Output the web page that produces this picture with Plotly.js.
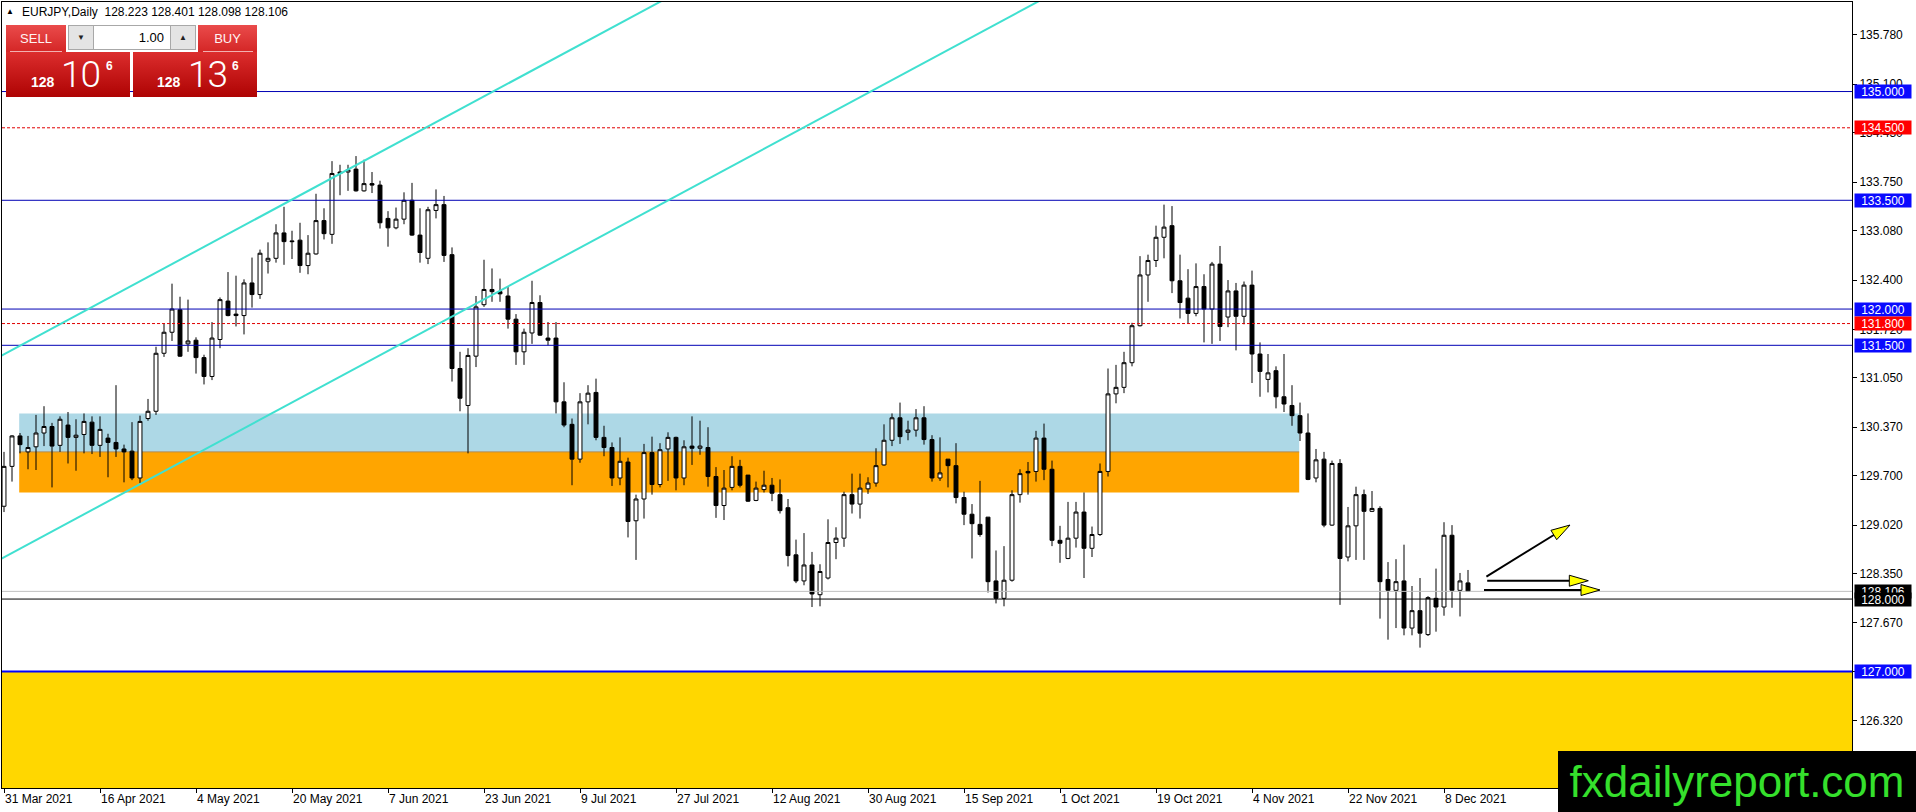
<!DOCTYPE html>
<html>
<head>
<meta charset="utf-8">
<script src="https://cdn.plot.ly/plotly-3.0.1.min.js"></script>
<style>
  html, body { margin:0; padding:0; background:#fff; overflow:hidden; }
  #chart { position:absolute; left:0; top:0; width:1916px; height:812px; }
  .ov { position:absolute; box-sizing:border-box; font-family:"Liberation Sans", Arial, sans-serif; }
  .lbl { color:#fff3f3; font-size:13px; text-align:center; line-height:27px;
         background:linear-gradient(#ea4b4b,#d42626); }
  .big { background:linear-gradient(#dc2d2d,#ae0303); color:#fff; }
  .spin { background:#e4e4e4; border:1px solid #a8a8a8; font-size:8px; text-align:center; line-height:23px; color:#222; }
</style>
</head>
<body>
<div id="chart"></div>

<!-- header -->
<div class="ov" style="left:6px;top:8px;font-size:8px;line-height:8px;color:#000;">&#9650;</div>
<div class="ov" style="left:22px;top:5px;font-size:12px;line-height:14px;color:#000;white-space:pre;">EURJPY,Daily  128.223 128.401 128.098 128.106</div>

<!-- one-click trading panel -->
<div class="ov lbl" style="left:6px;top:25px;width:60px;height:27px;">SELL</div>
<div class="ov" style="left:10px;top:51px;width:52px;height:1px;background:#f2b0b0;"></div>
<div class="ov spin" style="left:68px;top:25px;width:26px;height:25px;">&#9660;</div>
<div class="ov" style="left:93px;top:25px;width:78px;height:25px;background:#fff;border:1px solid #a8a8a8;font-size:13px;line-height:23px;text-align:right;padding-right:6px;color:#000;">1.00</div>
<div class="ov spin" style="left:170px;top:25px;width:26px;height:25px;">&#9650;</div>
<div class="ov lbl" style="left:198px;top:25px;width:59px;height:27px;">BUY</div>
<div class="ov" style="left:203px;top:51px;width:50px;height:1px;background:#f2b0b0;"></div>

<div class="ov big" style="left:6px;top:52px;width:124px;height:45px;">
  <div class="ov" style="left:25px;top:23px;font-size:14px;line-height:14px;font-weight:bold;">128</div>
  <div class="ov" style="left:55px;top:4px;font-size:37px;line-height:37px;font-family:Roboto,'Liberation Sans',sans-serif;font-weight:300;letter-spacing:-1px;">10</div>
  <div class="ov" style="left:100px;top:8px;font-size:12px;line-height:12px;font-weight:bold;">6</div>
</div>
<div class="ov big" style="left:133px;top:52px;width:124px;height:45px;">
  <div class="ov" style="left:24px;top:23px;font-size:14px;line-height:14px;font-weight:bold;">128</div>
  <div class="ov" style="left:55px;top:4px;font-size:37px;line-height:37px;font-family:Roboto,'Liberation Sans',sans-serif;font-weight:300;letter-spacing:-1px;">13</div>
  <div class="ov" style="left:99px;top:8px;font-size:12px;line-height:12px;font-weight:bold;">6</div>
</div>

<!-- watermark -->
<div class="ov" style="left:1558px;top:751px;width:358px;height:61px;background:#000;color:#35e02c;font-size:44px;line-height:61px;text-align:center;">fxdailyreport.com</div>

<script>
// ---- data (daily EURJPY bars, index 0 = 31 Mar 2021) ----
const open = [129.28,129.83,130.25,130.03,130.10,130.29,130.38,130.12,130.40,130.23,130.27,130.44,130.12,130.22,130.16,130.07,130.04,129.67,130.49,130.59,
131.39,131.68,131.99,131.52,131.57,131.33,131.07,131.58,132.11,131.93,131.91,132.36,132.20,132.66,132.70,133.05,132.94,132.95,132.60,132.76,
133.22,133.03,133.89,133.89,133.93,133.63,133.73,133.71,133.25,133.12,133.24,133.50,133.02,132.70,133.36,133.44,132.75,131.18,130.67,131.35,
132.06,132.27,132.24,132.18,131.86,131.41,131.67,132.09,131.60,131.60,130.72,130.41,129.93,130.72,130.85,130.23,130.09,129.67,129.89,129.08,
129.38,130.02,129.58,130.07,130.23,129.67,130.11,130.08,130.09,129.69,129.29,129.54,129.83,129.71,129.36,129.51,129.57,129.44,129.26,128.61,
128.25,128.47,128.06,128.29,128.78,128.84,129.44,129.31,129.52,129.60,129.85,130.19,130.50,130.30,130.33,130.50,130.20,129.67,129.93,129.84,
129.40,129.17,129.03,129.13,128.25,128.01,128.26,129.44,129.76,129.76,130.22,129.79,128.81,128.56,128.84,129.20,128.70,128.89,129.76,130.83,
130.92,131.26,131.77,132.47,132.67,132.99,133.15,132.39,132.15,131.94,132.31,132.00,132.62,131.89,132.25,131.90,132.33,131.38,131.03,131.15,
130.79,130.67,130.53,130.29,129.67,129.93,129.02,129.87,128.58,129.01,129.44,129.21,129.25,128.27,128.12,128.25,127.60,127.84,127.51,128.01,
127.89,128.88,128.12,128.223];
const high = [130.03,130.26,130.29,130.25,130.54,130.66,130.43,130.52,130.58,130.48,130.56,130.52,130.52,130.28,130.95,130.13,130.44,130.53,130.76,131.48,
131.80,132.35,132.17,132.13,131.61,131.37,131.82,132.16,132.51,132.46,132.41,132.71,132.82,132.92,133.17,133.41,133.08,133.19,133.02,133.59,
133.39,134.04,133.99,133.99,134.11,134.06,133.89,133.77,133.35,133.40,133.61,133.74,133.39,133.41,133.65,133.56,132.85,131.41,131.46,132.18,
132.68,132.56,132.42,132.31,131.93,131.73,132.39,132.19,131.82,131.82,130.99,130.49,130.84,130.95,131.04,130.39,130.16,130.23,129.95,129.44,
130.14,130.24,130.15,130.30,130.24,130.19,130.52,130.46,130.37,129.82,129.78,129.97,129.92,129.71,129.62,129.77,129.67,129.65,129.38,128.82,
128.91,128.65,128.48,129.10,128.99,129.48,129.73,129.73,129.68,130.08,130.41,130.56,130.71,130.46,130.62,130.66,130.26,130.23,129.93,130.15,
129.48,129.31,129.63,129.13,128.67,128.73,129.50,129.79,129.89,130.32,130.42,129.91,129.01,129.34,129.34,129.47,129.00,129.87,131.18,131.23,
131.41,131.81,132.73,132.75,133.15,133.44,133.42,132.75,132.55,132.63,132.48,132.65,132.87,132.40,132.36,132.38,132.53,131.54,131.38,131.21,
131.38,130.95,130.71,130.56,130.07,130.03,129.91,129.93,129.27,129.55,129.51,129.49,129.28,128.51,128.55,128.75,128.18,128.29,128.04,128.42,
129.06,129.02,128.36,128.401];
const low = [129.20,129.62,130.01,129.79,129.78,130.11,129.54,130.03,129.87,129.77,130.01,130.00,129.96,129.68,129.96,129.61,129.64,129.60,130.46,130.54,
131.34,131.56,131.34,131.41,131.11,130.96,131.02,131.46,131.90,131.76,131.65,132.02,132.14,132.49,132.64,132.61,132.69,132.50,132.48,132.75,
132.96,132.90,133.57,133.63,133.62,133.62,133.60,133.11,132.86,133.10,133.17,133.01,132.64,132.62,133.25,132.65,131.00,130.59,130.01,131.20,
132.03,132.10,132.10,131.73,131.23,131.23,131.52,131.63,131.50,130.56,130.37,129.57,129.88,130.41,130.19,129.97,129.56,129.57,128.85,128.54,
129.11,129.44,129.54,129.63,129.50,129.57,129.85,129.99,129.55,129.12,129.09,129.50,129.54,129.34,129.35,129.47,129.35,129.18,128.45,128.22,
128.19,127.89,127.90,128.27,128.55,128.72,129.18,129.11,129.45,129.55,129.84,130.11,130.14,130.19,130.24,130.13,129.62,129.63,129.54,129.32,
129.02,128.56,128.86,128.09,127.94,127.90,128.24,129.33,129.44,129.62,129.64,128.73,128.50,128.55,128.71,128.29,128.58,128.87,129.69,130.70,
130.84,131.21,131.76,132.10,132.58,132.70,132.22,131.87,131.80,131.90,131.54,131.52,131.56,131.75,131.43,131.79,130.98,130.79,130.85,130.63,
130.58,130.39,130.18,129.64,129.61,128.99,129.01,127.92,128.52,128.54,128.54,129.20,127.73,127.44,127.60,127.50,127.50,127.33,127.49,127.55,
127.77,127.88,127.76,128.098];
const close = [129.83,130.25,130.13,130.09,130.29,130.38,130.11,130.48,130.23,130.26,130.45,130.12,130.34,130.16,130.07,130.03,129.67,130.45,130.59,131.39,
131.68,132.00,131.35,131.56,131.33,131.07,131.60,132.13,131.91,131.91,132.36,132.20,132.77,132.70,133.05,132.93,132.93,132.60,132.77,133.22,
133.04,133.87,133.87,133.92,133.63,133.73,133.71,133.19,133.12,133.24,133.50,133.02,132.78,133.37,133.44,132.74,131.18,130.77,131.36,132.03,
132.27,132.24,132.21,131.86,131.41,131.68,132.09,131.64,131.57,130.72,130.40,129.93,130.72,130.84,130.23,130.09,129.67,129.90,129.07,129.38,
130.02,129.58,130.06,130.23,129.67,130.10,130.08,130.11,129.69,129.29,129.53,129.83,129.57,129.35,129.53,129.57,129.46,129.22,128.60,128.25,
128.47,128.07,128.38,128.78,128.84,129.44,129.31,129.53,129.60,129.84,130.19,130.50,130.24,130.33,130.50,130.20,129.67,129.74,129.84,129.40,
129.17,129.04,128.89,128.24,128.01,128.26,129.44,129.73,129.74,130.22,129.79,128.81,128.77,128.84,129.20,128.70,128.89,129.76,130.83,130.92,
131.26,131.77,132.47,132.67,132.99,133.13,132.39,132.09,131.94,132.31,132.00,132.62,131.76,132.25,131.90,132.33,131.38,131.14,131.12,130.79,
130.69,130.53,130.29,129.65,129.92,129.02,129.87,128.56,129.01,129.44,129.21,129.25,128.24,128.12,128.24,127.60,127.84,127.53,128.02,127.89,
128.88,128.12,128.25,128.106];

const tickBars   = [0,12,24,36,48,60,72,84,96,108,120,132,144,156,168,180];
const tickLabels = ['31 Mar 2021','16 Apr 2021','4 May 2021','20 May 2021','7 Jun 2021','23 Jun 2021','9 Jul 2021','27 Jul 2021',
                    '12 Aug 2021','30 Aug 2021','15 Sep 2021','1 Oct 2021','19 Oct 2021','4 Nov 2021','22 Nov 2021','8 Dec 2021'];
const yTicks = [135.78,135.10,134.43,133.75,133.08,132.40,131.72,131.05,130.37,129.70,129.02,128.35,127.67,127.00,126.32];

// horizontal levels
const blueLevels = [135.0,133.5,132.0,131.5];
const redLevels  = [134.5,131.8];
const bidPrice = 128.106;
const blackLevel = 128.0;
const supportLevel = 127.0;
// zones [x0 bar, x1 bar, low, high]
const blueZone   = [1.9,161.9,130.03,130.56];
const orangeZone = [1.9,161.9,129.47,130.03];
// trend channel lines [bar0, price0, bar1, price1]
const channel = [[-1,131.316,90,136.712],[-1,128.517,140,136.878]];
// forecast arrows: tail [bar, price] and tip [bar, price]
const arrowTails = [[185.3,128.31],[185.4,128.253],[185.0,128.125]];
const arrowTips  = [[195.75,129.021],[198.04,128.253],[199.5,128.125]];
// right-side price tags
const tags = [[135.0,'#0a0aff'],[134.5,'#ff0000'],[133.5,'#0a0aff'],[132.0,'#0a0aff'],[131.8,'#ff0000'],
              [131.5,'#0a0aff'],[128.106,'#000000'],[128.0,'#000000'],[127.0,'#0a0aff']];

const xRange = [-0.25,231];
const yRange = [125.394,136.235];
const plotW = 1850, plotH = 786;
const pxPerBar = plotW / (xRange[1] - xRange[0]);
const pxPerPrice = plotH / (yRange[1] - yRange[0]);
const bars = open.map((_, i) => i);
const FONT = 'Liberation Sans, Arial, sans-serif';

const candles = {
  type:'candlestick', x:bars, open:open, high:high, low:low, close:close,
  increasing:{line:{color:'#000',width:1}, fillcolor:'#ffffff'},
  decreasing:{line:{color:'#000',width:1}, fillcolor:'#000000'},
  whiskerwidth:0, hoverinfo:'skip', showlegend:false
};

const shapes = [];
shapes.push({type:'rect', xref:'paper', x0:0, x1:1, yref:'y', y0:yRange[0], y1:supportLevel, fillcolor:'#ffd700', line:{width:0}, layer:'below'});
shapes.push({type:'rect', xref:'x', x0:blueZone[0], x1:blueZone[1], yref:'y', y0:blueZone[2], y1:blueZone[3], fillcolor:'#add8e6', line:{width:0}, layer:'below'});
shapes.push({type:'rect', xref:'x', x0:orangeZone[0], x1:orangeZone[1], yref:'y', y0:orangeZone[2], y1:orangeZone[3], fillcolor:'#ffa500', line:{width:0}, layer:'below'});
shapes.push({type:'line', xref:'x', x0:orangeZone[0], x1:orangeZone[1], yref:'y', y0:orangeZone[3], y1:orangeZone[3], line:{color:'#b38a4e',width:1}, layer:'below'});
blueLevels.forEach(v => shapes.push({type:'line', xref:'paper', x0:0, x1:1, yref:'y', y0:v, y1:v, line:{color:'#0000b4',width:1}}));
redLevels.forEach(v => shapes.push({type:'line', xref:'paper', x0:0, x1:1, yref:'y', y0:v, y1:v, line:{color:'#e00000',width:1,dash:'3px,2px'}}));
shapes.push({type:'line', xref:'paper', x0:0, x1:1, yref:'y', y0:bidPrice, y1:bidPrice, line:{color:'#c0c0c0',width:1}});
shapes.push({type:'line', xref:'paper', x0:0, x1:1, yref:'y', y0:blackLevel, y1:blackLevel, line:{color:'#000',width:1}});
shapes.push({type:'line', xref:'paper', x0:0, x1:1, yref:'y', y0:supportLevel, y1:supportLevel, line:{color:'#0000ff',width:2}});
channel.forEach(c => shapes.push({type:'line', xref:'x', yref:'y', x0:c[0], y0:c[1], x1:c[2], y1:c[3], line:{color:'#40e0d0',width:2}}));

// arrows: black shaft + yellow head outlined in black (head size in pixels)
const HEAD_LEN = 19, HEAD_HALF = 5.5;
arrowTails.forEach((t, i) => {
  const tip = arrowTips[i];
  const dx = (tip[0] - t[0]) * pxPerBar, dy = (tip[1] - t[1]) * pxPerPrice;
  const len = Math.hypot(dx, dy), ux = dx / len, uy = dy / len;
  const bx = -ux * HEAD_LEN, by = -uy * HEAD_LEN;           // base centre offset (px)
  const toX = px => px / pxPerBar, toY = py => py / pxPerPrice;
  const base = [tip[0] + toX(bx), tip[1] + toY(by)];
  const l = [tip[0] + toX(bx - uy * HEAD_HALF), tip[1] + toY(by + ux * HEAD_HALF)];
  const r = [tip[0] + toX(bx + uy * HEAD_HALF), tip[1] + toY(by - ux * HEAD_HALF)];
  shapes.push({type:'line', xref:'x', yref:'y', x0:t[0], y0:t[1], x1:base[0], y1:base[1], line:{color:'#000',width:2}});
  shapes.push({type:'path', xref:'x', yref:'y',
    path:`M${tip[0]},${tip[1]} L${l[0]},${l[1]} L${r[0]},${r[1]} Z`,
    fillcolor:'#ffff00', line:{color:'#000',width:1}});
});

const annotations = tags.map(t => ({
  xref:'paper', x:1, xanchor:'left', xshift:2, yref:'y', y:t[0], yanchor:'middle',
  text:t[0].toFixed(3), showarrow:false, bgcolor:t[1], width:56, height:13, borderpad:0,
  font:{family:FONT, size:12, color:'#ffffff'}
}));

const layout = {
  width:1916, height:812,
  margin:{l:2, r:64, t:2, b:24, pad:0},
  paper_bgcolor:'#ffffff', plot_bgcolor:'#ffffff',
  showlegend:false, dragmode:false,
  xaxis:{range:xRange, showgrid:false, zeroline:false, showline:true, mirror:true, linecolor:'#000', linewidth:1,
         ticks:'outside', ticklen:4, tickcolor:'#000', tickvals:tickBars, ticktext:tickLabels,
         ticklabelposition:'outside right', tickfont:{family:FONT, size:12, color:'#000'},
         rangeslider:{visible:false}, fixedrange:true},
  yaxis:{side:'right', range:yRange, showgrid:false, zeroline:false, showline:true, mirror:true, linecolor:'#000', linewidth:1,
         ticks:'outside', ticklen:4, tickcolor:'#000', tickvals:yTicks, ticktext:yTicks.map(v => v.toFixed(3)),
         tickfont:{family:FONT, size:12, color:'#000'}, fixedrange:true},
  shapes:shapes, annotations:annotations
};

Plotly.newPlot('chart', [candles], layout, {displayModeBar:false, staticPlot:true});
</script>
</body>
</html>
